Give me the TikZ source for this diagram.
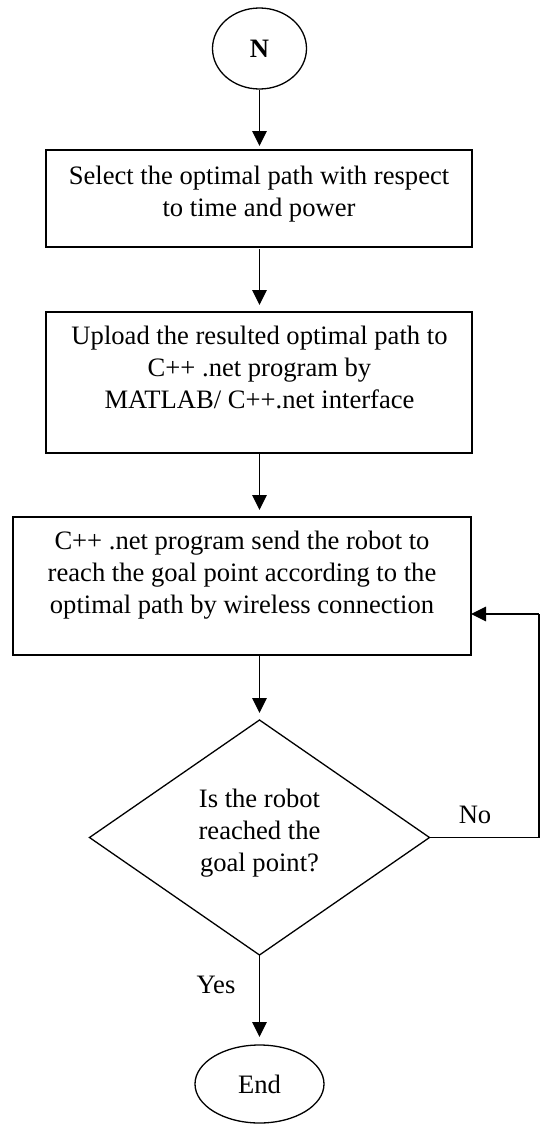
\documentclass[tikz,border=0pt]{standalone}
\usepackage{fontspec}
\setmainfont{Liberation Serif}
\usetikzlibrary{arrows.meta,shapes.geometric}

\begin{document}
\begin{tikzpicture}[x=1pt,y=-1pt,
  every node/.style={inner sep=0pt,outer sep=0pt},
  % multi-line labels are placed by the baseline of their last line
  txt/.style={font=\fontsize{26.6}{31.8}\selectfont,align=center,anchor=base},
  shape line/.style={draw=black,line width=1.3pt},
  procbox/.style={shape line,rectangle},
  term/.style={shape line,ellipse},
  decision/.style={shape line,diamond,aspect=1.447},
  flow/.style={line width=1.3pt,-{Triangle[length=15pt,width=14.5pt]}},
  link/.style={line width=1.3pt}]

\useasboundingbox (0,0) rectangle (540,1124);

% start terminal
\node[term,minimum width=94pt,minimum height=81pt,
      font=\fontsize{26.6}{31.8}\selectfont\bfseries] (N) at (259.5,48.5) {N};

% process steps
\node[procbox,minimum width=426pt,minimum height=97pt]  (b1) at (259,198.5) {};
\node[txt] (t1) at (259,216.5) {Select the optimal path with respect\\to time and power};

\node[procbox,minimum width=426pt,minimum height=141pt] (b2) at (259,382.5) {};
\node[txt] (t2) at (259.5,408.5) {Upload the resulted optimal path to\\C++ .net program by\\MATLAB/ C++.net interface};

\node[procbox,minimum width=458pt,minimum height=138pt] (b3) at (242,586) {};
\node[txt] (t3) at (242,613.5) {C++ .net program send the robot to\\reach the goal point according to the\\optimal path by wireless connection};

% decision
\node[decision,minimum width=340pt,minimum height=235pt] (dia) at (259.5,837.5) {};
\node[txt] (td) at (259.5,871.5) {Is the robot\\reached the\\goal point?};

% end terminal
\node[term,minimum width=129pt,minimum height=78pt,
      font=\fontsize{26.6}{31.8}\selectfont] (E) at (259.5,1084) {End};

% connectors
\draw[flow,shorten <=1pt,shorten >=4pt] (N.south) -- (N.south |- b1.north);
\draw[flow,shorten <=2pt,shorten >=7pt] (b1.south -| N.south) -- (b2.north -| N.south);
\draw[flow,shorten >=7pt] (b2.south -| N.south) -- (b3.north -| N.south);
\draw[flow,shorten >=7pt] (b3.south -| dia.north) -- (dia.north);
\draw[flow,shorten >=8pt] (dia.south) -- (E.north);

% loop back when the goal is not reached
\coordinate (fb) at (539,614);
\draw[link] (dia.east) -- (dia.east -| fb) -- (fb);
\draw[flow] (fb) -- (fb -| b3.east);

% branch labels
\node[txt] (no)  at (475,823) {No};
\node[txt] (yes) at (216,993) {Yes};

\end{tikzpicture}
\end{document}
